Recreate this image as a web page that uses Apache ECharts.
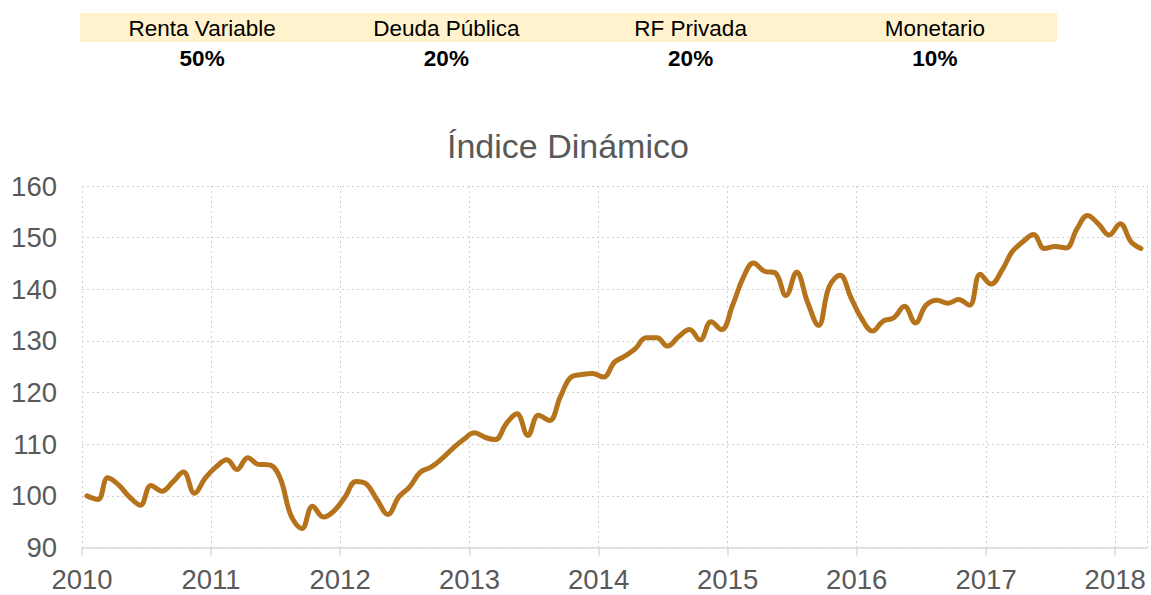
<!DOCTYPE html>
<html>
<head>
<meta charset="utf-8">
<script src="https://cdn.jsdelivr.net/npm/echarts@6/dist/echarts.min.js"></script>
<style>
  html, body { margin: 0; padding: 0; background: #ffffff; }
  #chart { width: 1151px; height: 595px; }
</style>
</head>
<body>
<div id="chart"></div>
<script>
// Header table
const headerLabels = ['Renta Variable', 'Deuda Pública', 'RF Privada', 'Monetario'];
const headerWeights = ['50%', '20%', '20%', '10%'];

// Title
const chartTitle = 'Índice Dinámico';

// Monthly dates (mid-month), Jan 2010 - Mar 2018
const dates = [
  '2010-01-15','2010-02-15','2010-03-15','2010-04-15','2010-05-15','2010-06-15','2010-07-15','2010-08-15','2010-09-15','2010-10-15','2010-11-15','2010-12-15',
  '2011-01-15','2011-02-15','2011-03-15','2011-04-15','2011-05-15','2011-06-15','2011-07-15','2011-08-15','2011-09-15','2011-10-15','2011-11-15','2011-12-15',
  '2012-01-15','2012-02-15','2012-03-15','2012-04-15','2012-05-15','2012-06-15','2012-07-15','2012-08-15','2012-09-15','2012-10-15','2012-11-15','2012-12-15',
  '2013-01-15','2013-02-15','2013-03-15','2013-04-15','2013-05-15','2013-06-15','2013-07-15','2013-08-15','2013-09-15','2013-10-15','2013-11-15','2013-12-15',
  '2014-01-15','2014-02-15','2014-03-15','2014-04-15','2014-05-15','2014-06-15','2014-07-15','2014-08-15','2014-09-15','2014-10-15','2014-11-15','2014-12-15',
  '2015-01-15','2015-02-15','2015-03-15','2015-04-15','2015-05-15','2015-06-15','2015-07-15','2015-08-15','2015-09-15','2015-10-15','2015-11-15','2015-12-15',
  '2016-01-15','2016-02-15','2016-03-15','2016-04-15','2016-05-15','2016-06-15','2016-07-15','2016-08-15','2016-09-15','2016-10-15','2016-11-15','2016-12-15',
  '2017-01-15','2017-02-15','2017-03-15','2017-04-15','2017-05-15','2017-06-15','2017-07-15','2017-08-15','2017-09-15','2017-10-15','2017-11-15','2017-12-15',
  '2018-01-15','2018-02-15','2018-03-15'
];

// Index values
const indexValues = [
  100.0, 99.3, 103.5, 102.1, 99.8, 98.2, 102.0, 100.9, 102.7, 104.6, 100.5, 103.4,
  105.6, 107.0, 105.1, 107.4, 106.1, 106.0, 103.5, 96.2, 93.7, 98.0, 95.9, 97.1,
  99.8, 102.8, 102.3, 99.2, 96.4, 99.8, 101.7, 104.6, 105.6, 107.2, 109.2, 110.9,
  112.2, 111.3, 110.9, 114.0, 115.9, 111.7, 115.6, 114.6, 119.2, 123.0, 123.5, 123.7,
  123.0, 125.9, 127.0, 128.5, 130.6, 130.6, 129.0, 130.8, 132.2, 130.2, 133.7, 132.2,
  136.9, 142.4, 145.1, 143.5, 143.2, 138.8, 143.3, 137.5, 133.0, 140.5, 142.7, 138.5,
  134.3, 131.9, 133.8, 134.5, 136.7, 133.5, 136.9, 137.9, 137.3, 138.0, 136.9, 142.9,
  141.0, 143.7, 147.2, 149.2, 150.6, 147.9, 148.3, 148.0, 151.7, 154.3, 152.6, 150.5,
  152.7, 149.2, 147.9
];

// Axis settings
const xMin = '2010-01-01';
const xMax = '2018-04-01';
const yMin = 90, yMax = 160, yStep = 10;

const chart = echarts.init(document.getElementById('chart'), null, { renderer: 'svg' });

const bandLeft = 80, bandWidth = 977, colW = bandWidth / headerLabels.length;
const graphic = [{
  type: 'rect', left: bandLeft, top: 13,
  shape: { width: bandWidth, height: 29 },
  style: { fill: '#FFF2CC' }, silent: true
}];
headerLabels.forEach((lab, i) => {
  const cx = bandLeft + colW * (i + 0.5);
  graphic.push({
    type: 'text', x: cx, y: 28.5,
    style: { text: lab, fill: '#000000', font: '22.5px "Liberation Sans", Arial, sans-serif',
             align: 'center', verticalAlign: 'middle' }
  });
  graphic.push({
    type: 'text', x: cx, y: 58,
    style: { text: headerWeights[i], fill: '#000000', font: 'bold 22.5px "Liberation Sans", Arial, sans-serif',
             align: 'center', verticalAlign: 'middle' }
  });
});

const option = {
  backgroundColor: '#ffffff',
  animation: false,
  textStyle: { fontFamily: '"Liberation Sans", Arial, sans-serif' },
  title: {
    text: chartTitle,
    left: 447, top: 129,
    padding: 0,
    textStyle: { fontSize: 34, fontWeight: 'normal', color: '#595959',
                 fontFamily: '"Liberation Sans", Arial, sans-serif' }
  },
  graphic: graphic,
  grid: { left: 82, right: 4, top: 186, bottom: 47.5, containLabel: false },
  xAxis: {
    type: 'time',
    min: xMin, max: xMax,
    splitNumber: 9,
    minInterval: 3600 * 24 * 1000 * 365,
    maxInterval: 3600 * 24 * 1000 * 366,
    axisLine: { show: true, lineStyle: { color: '#D9D9D9', width: 1.5 } },
    axisTick: { show: true, length: 8, lineStyle: { color: '#D9D9D9', width: 1.5 } },
    axisLabel: {
      color: '#595959', fontSize: 27.5, margin: 18,
      formatter: function (v) { return String(new Date(v).getFullYear()); },
      hideOverlap: false, showMaxLabel: false
    },
    splitLine: { show: true, lineStyle: { color: '#D0D0D0', type: [2, 3], width: 1 } }
  },
  yAxis: {
    type: 'value',
    min: yMin, max: yMax, interval: yStep,
    axisLine: { show: false },
    axisTick: { show: false },
    axisLabel: { color: '#595959', fontSize: 27.5, margin: 25 },
    splitLine: { show: true, lineStyle: { color: '#D0D0D0', type: [2, 3], width: 1 } }
  },
  series: [{
    type: 'line',
    data: dates.map((d, i) => [d, indexValues[i]]),
    smooth: 0.4,
    showSymbol: false,
    symbol: 'none',
    lineStyle: { color: '#B5731B', width: 5, cap: 'round', join: 'round' },
    z: 5
  }]
};
chart.setOption(option);
</script>
</body>
</html>
